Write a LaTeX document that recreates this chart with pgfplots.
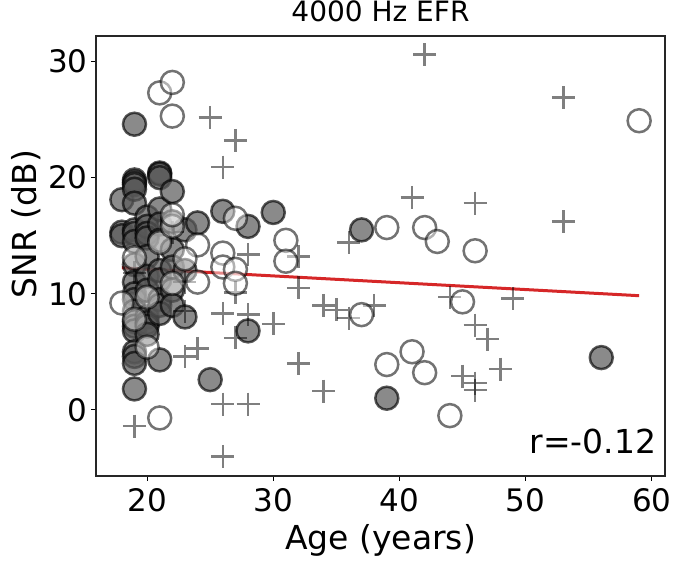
\documentclass[border=0pt]{standalone}
\usepackage{fontspec}
\setmainfont{DejaVu Sans}
\usepackage{pgfplots}
\pgfplotsset{compat=1.18}
\definecolor{tabred}{HTML}{D62728}
\begin{document}
\begin{tikzpicture}
\begin{axis}[name=ax, width=569pt, height=440pt, scale only axis,
 xmin=15.95, xmax=61.05, ymin=-5.7, ymax=32.2,
 xtick={20,30,40,50,60}, ytick={0,10,20,30},
 tick align=outside, tick pos=left, major tick length=5pt,
 every tick/.style={black, line width=1pt},
 axis line style={line width=1.2pt, black!85},
 tick label style={font=\fontsize{31}{37}\selectfont},
 xticklabel style={yshift=-4pt},
 /pgf/number format/assume math mode=true,
 label style={font=\fontsize{33}{40}\selectfont},
 xlabel={Age (years)}, ylabel={SNR (dB)},
 xlabel style={yshift=-6pt},
 ylabel style={at={(ticklabel cs:0.573)}},
 title={4000 Hz EFR},
 title style={font=\fontsize{28}{34}\selectfont, at={(0.5,1)}, anchor=south, yshift=5pt},
]
% filled circles
\addplot[only marks, mark=*, mark size=11.5pt, fill=black!65, draw=black, fill opacity=0.7, draw opacity=0.65, line width=2.5pt] coordinates {
(18,18.1) (18,15.3) (18,15.0)
(19,24.6) (19,19.8) (19,19.6) (19,19.4) (19,19.0) (19,17.8) (19,15.5) (19,15.2) (19,14.5) (19,12.5) (19,11.0) (19,10.0) (19,9.5) (19,8.5) (19,7.6) (19,7.2) (19,6.8) (19,5.0) (19,4.6) (19,4.0) (19,1.8)
(20,16.6) (20,15.8) (20,15.2) (20,14.8) (20,13.2) (20,11.5) (20,10.3) (20,8.0) (20,7.5) (20,7.2) (20,6.5)
(21,20.4) (21,20.3) (21,20.0) (21,17.3) (21,16.0) (21,14.6) (21,12.0) (21,11.2) (21,9.5) (21,9.0) (21,8.3) (21,4.3)
(22,18.8) (22,16.2) (22,13.8) (22,12.3) (22,10.3) (22,9.0)
(23,15.5) (23,12.0) (23,8.0)
(24,16.1) (25,2.6) (26,17.1) (28,15.8) (28,6.8) (30,17.0) (37,15.5) (39,1.0) (56,4.5)
};
% plus markers
\addplot[only marks, mark=+, mark size=11.5pt, draw=black, draw opacity=0.5, line width=2.5pt] coordinates {
(42,30.6) (53,26.9) (25,25.2) (27,23.2) (26,20.9) (41,18.3) (46,17.8) (53,16.2)
(36,14.4) (28,13.4) (32,13.2) (32,10.5) (27,10.1) (34,9.0) (35,8.6) (36,7.9) (38,9.0)
(26,8.3) (28,8.2) (30,7.4) (27,6.2) (24,5.3) (23,4.6) (32,4.0) (34,1.6) (26,0.5) (28,0.5)
(19,-1.4) (26,-4.0) (44,9.7) (46,7.3) (47,6.1) (48,3.5) (49,9.6) (45,2.9) (46,2.3) (46,1.7)
(19,11.8) (22,15.3) (23,11.0) (23,8.5)
};
% open circles
\addplot[only marks, mark=*, mark size=11.5pt, fill=white, draw=black, fill opacity=0.45, draw opacity=0.55, line width=2.5pt] coordinates {
(18,9.2) (19,13.1) (19,7.8) (20,9.7) (20,5.4) (21,27.3) (22,28.2) (22,25.3) (21,14.4)
(22,15.8) (22,16.8) (22,10.9) (21,-0.7) (24,14.2) (24,11.0) (26,13.5) (26,12.3) (27,16.5)
(27,12.1) (27,10.9) (31,14.6) (31,12.8) (37,8.2) (39,15.7) (39,3.9) (41,5.0) (42,15.7)
(42,3.2) (43,14.5) (44,-0.5) (45,9.3) (46,13.7) (59,24.9) (23,13.0)
};
\addplot[tabred, line width=3pt] coordinates {(18,12.24) (59,9.83)};
\node[anchor=base east, font=\fontsize{33}{40}\selectfont] at (rel axis cs:0.991,0.052) {r=-0.12};
\end{axis}
\pgfresetboundingbox
\path[use as bounding box] (ax.south west) ++(-96pt,-85pt) rectangle ++(680pt,561pt);
\end{tikzpicture}
\end{document}
